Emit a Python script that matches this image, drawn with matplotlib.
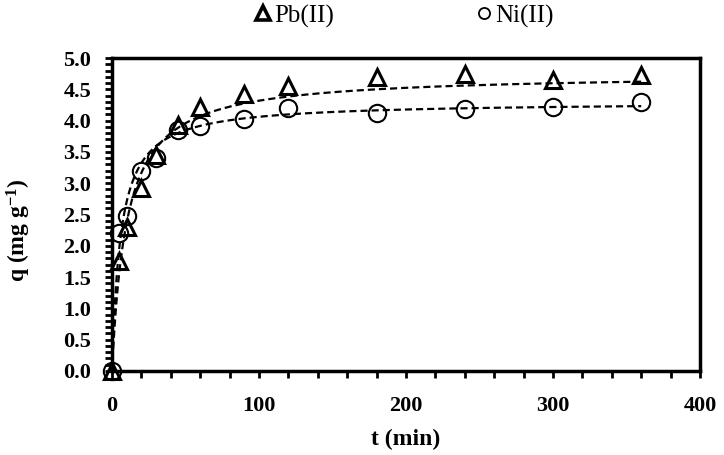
import numpy as np
import matplotlib
matplotlib.use("Agg")
import matplotlib.pyplot as plt
from matplotlib.ticker import MultipleLocator, FormatStrFormatter
from matplotlib.lines import Line2D

# Data
t_pb = [0, 5, 10, 20, 30, 45, 60, 90, 120, 180, 240, 300, 360]
q_pb = [0.0, 1.75, 2.30, 2.93, 3.45, 3.93, 4.22, 4.42, 4.55, 4.70, 4.75, 4.65, 4.73]
t_ni = [0, 5, 10, 20, 30, 45, 60, 90, 120, 180, 240, 300, 360]
q_ni = [0.0, 2.20, 2.48, 3.20, 3.40, 3.85, 3.92, 4.02, 4.20, 4.12, 4.18, 4.22, 4.30]

# Pseudo-second-order fit parameters (qe, h = k*qe)
qe_pb, h_pb = 4.75, 0.10
qe_ni, h_ni = 4.30, 0.17

serif = ['Liberation Serif', 'DejaVu Serif']
plt.rcParams['font.family'] = serif
plt.rcParams['mathtext.fontset'] = 'custom'
plt.rcParams['mathtext.rm'] = 'Liberation Serif:bold'
plt.rcParams['mathtext.bf'] = 'Liberation Serif:bold'
plt.rcParams['mathtext.default'] = 'bf'

fig = plt.figure(figsize=(7.24, 4.55), dpi=100)
ax = fig.add_axes([112/724, 1-371/455, (700-112)/724, (371-58)/455])

tf = np.linspace(0, 360, 400)
ax.plot(tf, qe_pb*h_pb*tf/(1+h_pb*tf), 'k--', lw=1.6, dashes=(3.2, 1.8), zorder=2)
ax.plot(tf, qe_ni*h_ni*tf/(1+h_ni*tf), 'k--', lw=1.6, dashes=(3.2, 1.8), zorder=2)

ax.plot(t_pb, q_pb, linestyle='none', marker='^', ms=12, mfc='none', mec='black', mew=2.2,
        zorder=3, clip_on=False)
ax.plot(t_ni, q_ni, linestyle='none', marker='o', ms=12.5, mfc='none', mec='black', mew=1.5,
        zorder=3, clip_on=False)

ax.set_xlim(0, 400)
ax.set_ylim(0, 5.0)
ax.xaxis.set_major_locator(MultipleLocator(100))
ax.xaxis.set_minor_locator(MultipleLocator(20))
ax.yaxis.set_major_locator(MultipleLocator(0.5))
ax.yaxis.set_minor_locator(MultipleLocator(0.1))
ax.yaxis.set_major_formatter(FormatStrFormatter('%.1f'))
ax.tick_params(which='both', direction='out', width=2, length=5, right=False, top=False)
ax.tick_params(axis='x', which='major', labelsize=16, pad=13)
ax.tick_params(axis='y', which='major', labelsize=16, pad=10)
for lab in ax.get_xticklabels() + ax.get_yticklabels():
    lab.set_fontweight('bold')
for s in ax.spines.values():
    s.set_linewidth(2.5)

ax.set_xlabel('t (min)', fontsize=17, fontweight='bold', labelpad=9)
ax.set_ylabel('q (mg g$^{-1}$)', fontsize=17, fontweight='bold')
ax.yaxis.set_label_coords(-0.134, 0.45)

h1 = Line2D([], [], linestyle='none', marker='^', ms=10, mfc='none', mec='black', mew=2.6)
h2 = Line2D([], [], linestyle='none', marker='o', ms=8, mfc='none', mec='black', mew=1.3)
leg = fig.legend([h1, h2], ['Pb(II)', 'Ni(II)'], loc='center', bbox_to_anchor=(403/724, 1-16/455),
                 ncol=2, frameon=False, fontsize=18, handletextpad=0.05, columnspacing=5.6,
                 handlelength=0.8, borderpad=0)

fig.savefig('out.png', dpi=100)
